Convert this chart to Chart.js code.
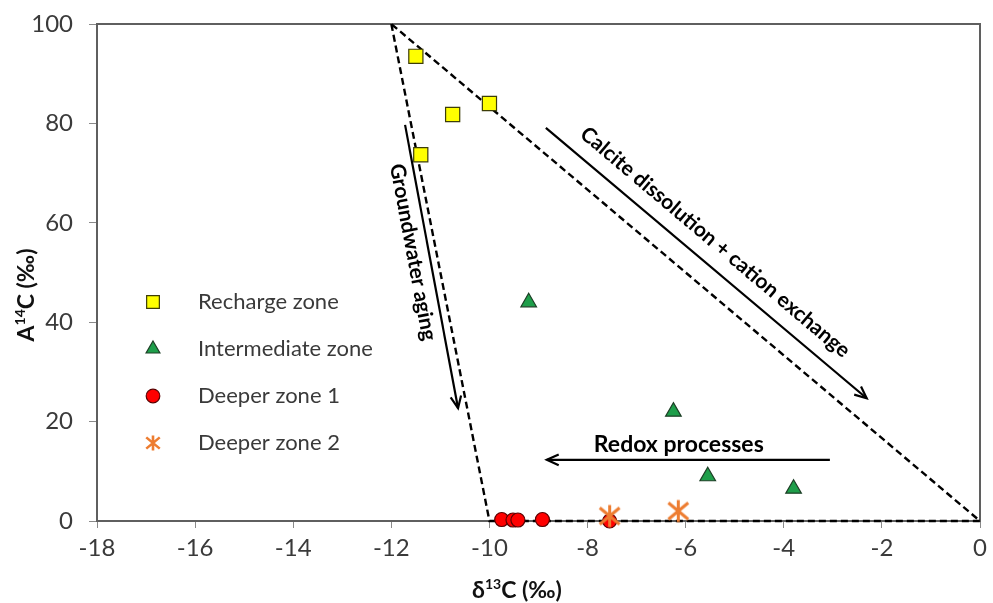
<!DOCTYPE html>
<html>
<head>
<meta charset="utf-8">
<script src="https://cdn.jsdelivr.net/npm/chart.js@4.4.0/dist/chart.umd.min.js"></script>
<style>
  html, body { margin: 0; padding: 0; background: #fff; }
  canvas { display: block; }
</style>
</head>
<body>
<canvas id="c" width="993" height="603"></canvas>
<script>
// data (d13C in per mil, A14C in per mil)
const rechargeD13C = [-11.5, -10.75, -10.0, -11.4];
const rechargeA14C = [93.5, 81.8, 84.0, 73.7];
const interD13C = [-9.2, -6.25, -5.55, -3.8];
const interA14C = [44.0, 22.0, 9.0, 6.5];
const deep1D13C = [-9.75, -9.52, -9.42, -8.92, -7.55];
const deep1A14C = [0.3, 0.2, 0.2, 0.3, 0.0];
const deep2D13C = [-7.55, -6.15];
const deep2A14C = [1.0, 2.0];
// dashed envelope (closed triangle)
const envelopeD13C = [-12, -10, 0, -12];
const envelopeA14C = [100, 0, 0, 100];

// annotation arrows and their labels, in data units
const arrowStart = [[-11.72, 79.7], [-8.85, 79.1], [-3.06, 12.3]];
const arrowEnd = [[-10.64, 22.7], [-2.31, 24.7], [-8.83, 12.3]];
const noteText = ['Groundwater aging', 'Calcite dissolution + cation exchange', 'Redox processes'];
const noteAt = [[-11.56, 54.1], [-5.40, 56.1], [-6.14, 15.3]];

const FONT = 'Lato, "Open Sans", "DejaVu Sans", sans-serif';
const AXIS_GREY = '#5f5f5f';

const pts = (xs, ys) => xs.map((x, i) => ({ x, y: ys[i] }));

// Excel-like asterisk marker
function asterisk(size, lw) {
  const c = document.createElement('canvas');
  c.width = size; c.height = size;
  const g = c.getContext('2d');
  const m = size / 2, h = size / 2 - 1.5;
  g.strokeStyle = '#ED7D31';
  g.lineWidth = lw;
  g.beginPath();
  g.moveTo(m, m - h); g.lineTo(m, m + h);
  g.moveTo(m - h * 0.9, m - h * 0.75); g.lineTo(m + h * 0.9, m + h * 0.75);
  g.moveTo(m - h * 0.9, m + h * 0.75); g.lineTo(m + h * 0.9, m - h * 0.75);
  g.stroke();
  return c;
}
const starBig = asterisk(25, 3);
const starSmall = asterisk(18, 2.6);

function drawArrow(ctx, x1, y1, x2, y2) {
  ctx.beginPath();
  ctx.moveTo(x1, y1);
  ctx.lineTo(x2, y2);
  ctx.stroke();
  const a = Math.atan2(y2 - y1, x2 - x1), L = 13, w = 0.42;
  ctx.beginPath();
  ctx.moveTo(x2 - L * Math.cos(a - w), y2 - L * Math.sin(a - w));
  ctx.lineTo(x2, y2);
  ctx.lineTo(x2 - L * Math.cos(a + w), y2 - L * Math.sin(a + w));
  ctx.stroke();
}

// text with a superscript part: parts = [[text, isSup], ...]
function drawSupText(ctx, parts, size, x, y) {
  const big = `bold ${size}px ${FONT}`, small = `bold ${Math.round(size * 0.62)}px ${FONT}`;
  let total = 0;
  parts.forEach(([t, sup]) => { ctx.font = sup ? small : big; total += ctx.measureText(t).width; });
  let cx = x - total / 2;
  ctx.textAlign = 'left';
  ctx.textBaseline = 'alphabetic';
  parts.forEach(([t, sup]) => {
    ctx.font = sup ? small : big;
    ctx.fillText(t, cx, sup ? y - size * 0.38 : y);
    cx += ctx.measureText(t).width;
  });
}

const extras = {
  id: 'extras',
  beforeDatasetsDraw(chart) {
    const { ctx, chartArea: a } = chart;
    ctx.save();
    ctx.strokeStyle = AXIS_GREY;
    ctx.lineWidth = 2;
    ctx.beginPath();
    ctx.moveTo(a.left, a.top);
    ctx.lineTo(a.right, a.top);
    ctx.lineTo(a.right, a.bottom);
    ctx.stroke();
    ctx.restore();
  },
  afterDatasetsDraw(chart) {
    const { ctx } = chart;
    const xs = chart.scales.x, ys = chart.scales.y;
    ctx.save();
    ctx.strokeStyle = '#000';
    ctx.fillStyle = '#000';
    ctx.lineWidth = 2.2;
    arrowStart.forEach((s, i) => {
      const e = arrowEnd[i];
      const x1 = xs.getPixelForValue(s[0]), y1 = ys.getPixelForValue(s[1]);
      const x2 = xs.getPixelForValue(e[0]), y2 = ys.getPixelForValue(e[1]);
      drawArrow(ctx, x1, y1, x2, y2);
      let ang = Math.atan2(y2 - y1, x2 - x1);
      if (x2 < x1) ang += Math.PI;
      const tx = xs.getPixelForValue(noteAt[i][0]), ty = ys.getPixelForValue(noteAt[i][1]);
      ctx.save();
      ctx.translate(tx, ty);
      ctx.rotate(ang);
      ctx.font = `bold ${i === 2 ? 23 : 21}px ${FONT}`;
      ctx.textAlign = 'center';
      ctx.textBaseline = 'middle';
      ctx.fillText(noteText[i], 0, 0);
      ctx.restore();
    });

    // legend inside the plot
    const rows = [302, 349, 396, 443];
    const legR = [9, 8, 6.8, 0];
    chart.data.datasets.slice(0, 4).forEach((ds, i) => {
      const mx = 153, my = rows[i];
      if (ds.pointStyle instanceof HTMLCanvasElement) {
        ctx.drawImage(starSmall, mx - starSmall.width / 2, my - starSmall.height / 2);
      } else {
        ctx.fillStyle = ds.backgroundColor;
        ctx.strokeStyle = ds.borderColor;
        ctx.lineWidth = ds.borderWidth;
        Chart.helpers.drawPoint(ctx, { pointStyle: ds.pointStyle, radius: legR[i], rotation: 0, borderWidth: ds.borderWidth }, mx, my);
      }
      ctx.fillStyle = '#3a3a3a';
      ctx.font = `22px ${FONT}`;
      ctx.textAlign = 'left';
      ctx.textBaseline = 'middle';
      ctx.fillText(ds.label, 198, my);
    });

    // axis titles
    ctx.fillStyle = '#111';
    drawSupText(ctx, [['δ', false], ['13', true], ['C (‰)', false]], 23, 517, 598);
    ctx.save();
    ctx.translate(34, 295);
    ctx.rotate(-Math.PI / 2);
    drawSupText(ctx, [['A', false], ['14', true], ['C (‰)', false]], 23, 0, 0);
    ctx.restore();
    ctx.restore();
  }
};

new Chart(document.getElementById('c'), {
  type: 'scatter',
  data: {
    datasets: [
      { label: 'Recharge zone', data: pts(rechargeD13C, rechargeA14C), pointStyle: 'rect',
        pointRadius: 10, backgroundColor: '#FFFF00', borderColor: '#3d3d08', borderWidth: 1.2, order: 4, clip: false },
      { label: 'Intermediate zone', data: pts(interD13C, interA14C), pointStyle: 'triangle',
        pointRadius: 9, backgroundColor: '#1E9E4A', borderColor: '#1d3f26', borderWidth: 1.2, order: 3, clip: false },
      { label: 'Deeper zone 1', data: pts(deep1D13C, deep1A14C), pointStyle: 'circle',
        pointRadius: 7, backgroundColor: '#FF0000', borderColor: '#5a0000', borderWidth: 1.2, order: 2, clip: false },
      { label: 'Deeper zone 2', data: pts(deep2D13C, deep2A14C), pointStyle: starBig,
        pointRadius: 10, backgroundColor: '#ED7D31', borderColor: '#ED7D31', borderWidth: 0, order: 1, clip: false },
      { label: 'envelope', data: pts(envelopeD13C, envelopeA14C), showLine: true, pointRadius: 0,
        borderColor: '#000', borderWidth: 2.4, borderDash: [7, 4], fill: false, order: 10, clip: false }
    ]
  },
  options: {
    responsive: false,
    animation: false,
    events: [],
    layout: { padding: { top: 24, right: 13, left: 0, bottom: 0 } },
    plugins: { legend: { display: false }, tooltip: { enabled: false } },
    scales: {
      x: {
        type: 'linear', min: -18, max: 0,
        ticks: { stepSize: 2, color: '#3a3a3a', font: { family: FONT, size: 24 }, padding: 6, maxRotation: 0 },
        grid: { drawOnChartArea: false, drawTicks: true, tickLength: 7, color: '#8a8a8a', lineWidth: 1 },
        border: { display: true, color: AXIS_GREY, width: 2 },
        afterFit: s => { s.height = 82; s.paddingLeft = 0; s.paddingRight = 0; }
      },
      y: {
        type: 'linear', min: 0, max: 100,
        ticks: { stepSize: 20, color: '#3a3a3a', font: { family: FONT, size: 24 }, padding: 16 },
        grid: { drawOnChartArea: false, drawTicks: true, tickLength: 8, color: '#8a8a8a', lineWidth: 1 },
        border: { display: true, color: AXIS_GREY, width: 2 },
        afterFit: s => { s.width = 97; s.paddingTop = 0; s.paddingBottom = 0; }
      }
    }
  },
  plugins: [extras]
});
</script>
</body>
</html>
